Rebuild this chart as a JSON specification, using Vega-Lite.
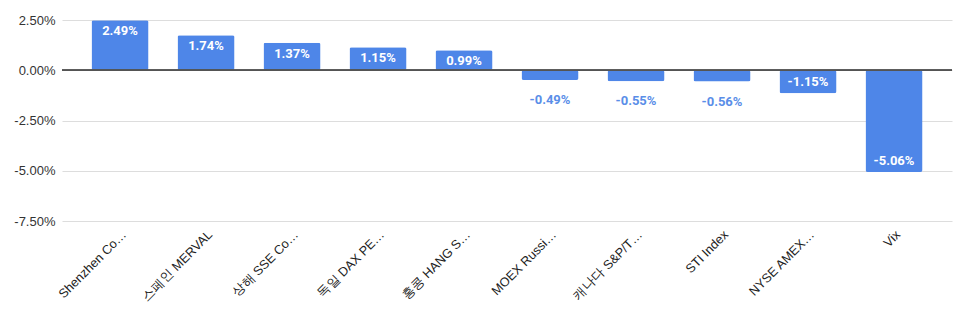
{
  "$schema": "https://vega.github.io/schema/vega-lite/v6.json",
  "autosize": {"type": "none"},
  "padding": {"left": 62, "top": 20, "right": 14, "bottom": 93},
  "width": 890,
  "height": 201,
  "background": "white",
  "config": {"view": {"stroke": null},
    "locale": {"number": {"decimal": ".", "thousands": ",", "grouping": [3], "currency": ["$", ""], "minus": "-"}}},
  "data": {"values": [
    {"name": "Shenzhen Co…", "value": 0.0249},
    {"name": "스페인 MERVAL", "value": 0.0174},
    {"name": "상해 SSE Co…", "value": 0.0137},
    {"name": "독일 DAX PE…", "value": 0.0115},
    {"name": "홍콩 HANG S…", "value": 0.0099},
    {"name": "MOEX Russi…", "value": -0.0049},
    {"name": "캐나다 S&P/T…", "value": -0.0055},
    {"name": "STI Index", "value": -0.0056},
    {"name": "NYSE AMEX…", "value": -0.0115},
    {"name": "Vix", "value": -0.0506}
  ]},
  "encoding": {
    "x": {"field": "name", "type": "nominal", "sort": null,
      "scale": {"paddingInner": 0.337, "paddingOuter": 0.343},
      "axis": {"title": null, "labelAngle": -45, "domain": false, "ticks": false,
        "labelFont": "Liberation Sans", "labelFontSize": 12.7, "labelColor": "#222222",
        "labelPadding": 7, "labelLimit": 200}},
    "y": {"field": "value", "type": "quantitative",
      "scale": {"domain": [-0.075, 0.025], "nice": false},
      "axis": {"title": null, "format": ".2%", "values": [0.025, 0, -0.025, -0.05, -0.075],
        "domain": false, "ticks": false, "labelFont": "Liberation Sans", "labelFontSize": 13,
        "labelColor": "#333333", "labelPadding": 7, "gridColor": "#dddddd", "gridWidth": 1}}
  },
  "layer": [
    {"mark": {"type": "bar", "color": "#4e86e8", "cornerRadius": 2}},
    {"mark": {"type": "rule", "color": "#555555", "strokeWidth": 1.2},
     "encoding": {"y": {"datum": 0}, "x": null}},
    {"transform": [{"filter": "datum.value > 0"}],
     "mark": {"type": "text", "font": "Roboto", "fontWeight": "bold", "fontSize": 13, "color": "white", "baseline": "middle", "dy": 11},
     "encoding": {"text": {"field": "value", "format": ".2%"}}},
    {"transform": [{"filter": "datum.value < 0 && datum.value > -0.01"}],
     "mark": {"type": "text", "font": "Roboto", "fontWeight": "bold", "fontSize": 13, "color": "#5a8ee8", "baseline": "middle", "dy": 20},
     "encoding": {"text": {"field": "value", "format": ".2%"}}},
    {"transform": [{"filter": "datum.value <= -0.01"}],
     "mark": {"type": "text", "font": "Roboto", "fontWeight": "bold", "fontSize": 13, "color": "white", "baseline": "middle", "dy": -11},
     "encoding": {"text": {"field": "value", "format": ".2%"}}}
  ]
}
